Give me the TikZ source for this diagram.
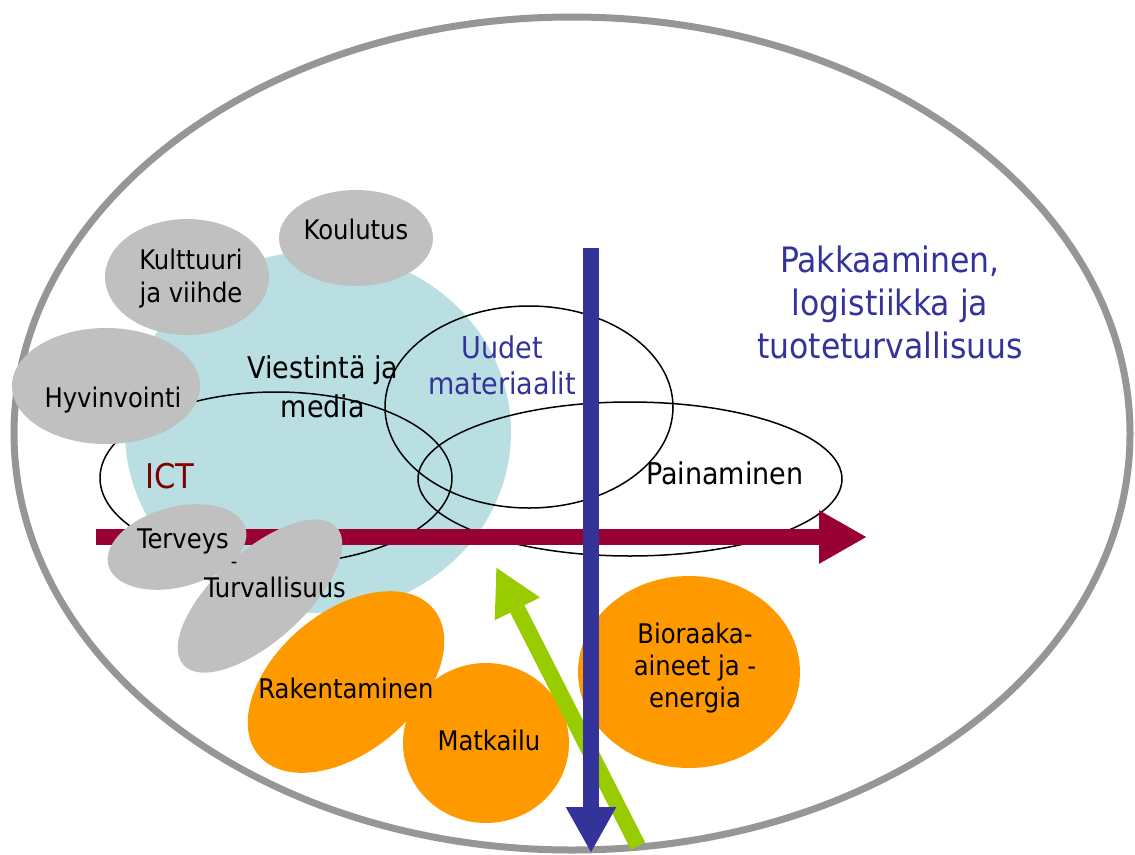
\documentclass[tikz,border=0pt]{standalone}
\usepackage{fontspec}
\usetikzlibrary{shapes.geometric,arrows.meta}
\newfontfamily\labelfont{DejaVu Sans Condensed}

\definecolor{ringgray}{HTML}{969696}
\definecolor{blobgray}{HTML}{C0C0C0}
\definecolor{cyanblob}{HTML}{B9DFE3}
\definecolor{orangeblob}{HTML}{FF9900}
\definecolor{crimson}{HTML}{990033}
\definecolor{navy}{HTML}{333399}
\definecolor{lime}{HTML}{99CC00}
\definecolor{ictred}{HTML}{800000}

\tikzset{
  blob/.style={ellipse, inner sep=0pt, draw=none},
  graybl/.style={blob, fill=blobgray},
  orangebl/.style={blob, fill=orangeblob},
  ring/.style={ellipse, inner sep=0pt, draw=black, line width=1.5pt},
  % anchor=base sits on the baseline of the last line
  lbl/.style={inner sep=0pt, anchor=base, align=center,
    font=\labelfont\fontsize{27}{33}\selectfont},
  lblmid/.style={lbl, font=\labelfont\fontsize{30}{39}\selectfont},
  bigarrow/.style={line width=16pt},
}

\begin{document}
\begin{tikzpicture}[x=1pt,y=-1pt]
\useasboundingbox (0,0) rectangle (1135,854);

% outer frame
\node[ellipse, inner sep=0pt, draw=ringgray, line width=7pt,
      minimum width=1116pt, minimum height=833pt] (outer) at (572,433.5) {};

% communication and media area
\node[blob, fill=cyanblob, minimum width=386pt, minimum height=362pt] (media) at (318,432) {};

% outlined fields
\node[ring, minimum width=352pt, minimum height=172pt] (ictring) at (276,478) {};
\node[ring, minimum width=288pt, minimum height=202pt] (matring) at (529,407) {};
\node[ring, minimum width=424pt, minimum height=154pt] (printring) at (630,479) {};

% grey fields
\node[graybl, minimum width=154pt, minimum height=96pt] (koulutus) at (356,238) {};
\node[graybl, minimum width=164pt, minimum height=116pt] (kulttuuri) at (187,277) {};
\node[graybl, minimum width=188pt, minimum height=116pt] (hyvinvointi) at (106,386) {};

% horizontal arrow
\coordinate (hstart) at (96,537);
\coordinate (hend) at (867,537);
\draw[bigarrow, crimson, -{Triangle[length=48pt,width=50pt]}] (hstart) -- (hend);

\node[graybl, minimum width=142pt, minimum height=80pt, rotate=15] (terveys) at (177,547) {};
\node[graybl, minimum width=206pt, minimum height=90pt, rotate=42] (turva) at (260,596) {};

% orange fields
\node[orangebl, minimum width=228pt, minimum height=140pt, rotate=40] (rakent) at (346,682) {};
\node[orangebl, minimum width=166pt, minimum height=160pt] (matkailu) at (486,743) {};
\node[orangebl, minimum width=222pt, minimum height=192pt] (bio) at (689,672) {};

% rising arrow
\coordinate (gstart) at (638,846);
\coordinate (gend) at (496,567);
\draw[bigarrow, lime, -{Triangle[length=47pt,width=47pt]}] (gstart) -- (gend);

% vertical arrow
\coordinate (vstart) at (591,248);
\coordinate (vend) at (591,853);
\draw[bigarrow, navy, -{Triangle[length=46pt,width=47pt]}] (vstart) -- (vend);

% labels
\node[lbl] (tKoulutus) at (356,239) {Koulutus};
\node[lbl] (tKulttuuri) at (191,302) {Kulttuuri\\ja viihde};
\node[lbl] (tHyvinvointi) at (113,407) {Hyvinvointi};
\node[lblmid] (tViestinta) at (323,417) {Viestintä ja\\media};
\node[lbl, font=\labelfont\fontsize{34}{40}\selectfont, text=ictred] (tICT) at (170,488) {ICT};
\node[lbl] (tTerveys) at (183,548) {Terveys};
\node[lbl, font=\labelfont\fontsize{20}{24}\selectfont] (tDash) at (234,568) {-};
\node[lbl] (tTurva) at (275,597) {Turvallisuus};
\node[lblmid, font=\labelfont\fontsize{30}{36}\selectfont, text=navy] (tUudet) at (502,394) {Uudet\\materiaalit};
\node[lblmid] (tPainaminen) at (725,484) {Painaminen};
\node[lbl, font=\labelfont\fontsize{35}{43}\selectfont, text=navy] (tPakkaaminen) at (890,358)
  {Pakkaaminen,\\logistiikka ja\\tuoteturvallisuus};
\node[lbl] (tRakent) at (346,698) {Rakentaminen};
\node[lbl] (tMatkailu) at (489,750) {Matkailu};
\node[lbl, font=\labelfont\fontsize{27}{32}\selectfont] (tBio) at (695,707) {Bioraaka-\\aineet ja -\\energia};
\end{tikzpicture}
\end{document}
